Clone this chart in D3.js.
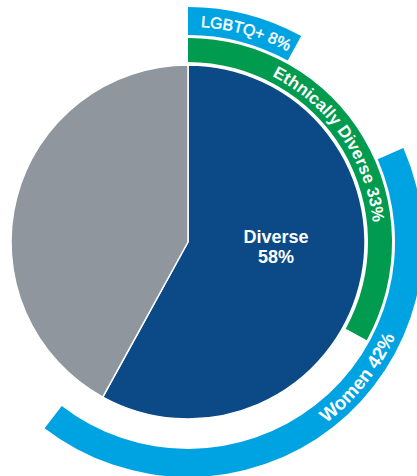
<!DOCTYPE html>
<html>
<head>
<meta charset="utf-8">
<script src="https://cdn.jsdelivr.net/npm/d3@7/dist/d3.min.js"></script>
<style>
  html, body { margin: 0; padding: 0; background: #ffffff; }
  svg { display: block; }
</style>
</head>
<body>
<svg id="chart" width="417" height="476"></svg>
<script>
// Board composition: share that is diverse vs. not
const pieNames = ["Diverse", "Other"];
const pieValues = [58, 42];

// Overlapping diversity categories shown as outer bands (percent of board)
const bandNames = ["Ethnically Diverse", "LGBTQ+", "Women"];
const bandValues = [33, 8, 42];

// ---- layout ----
const cx = 188, cy = 242;
const pieR = 177;
const tau = 2 * Math.PI;
const deg = Math.PI / 180;

// band geometry: which ring, where it starts, where its label sits
const rings = [{ r0: 180, r1: 204 }, { r0: 207, r1: 235 }];
const bandLayout = [
  { ring: 0, start: 0,          labelAt: 55.4 * deg,  size: 17,   weight: "bold",   stroke: 0,    dir: "cw"  },
  { ring: 1, start: 0,          labelAt: 15.5 * deg,  size: 16,   weight: "normal", stroke: 0.45, dir: "cw"  },
  { ring: 1, start: 66.4 * deg, labelAt: 128.6 * deg, size: 19,   weight: "bold",   stroke: 0,    dir: "ccw" }
];
const bandColors = ["#009b4f", "#00a3e2", "#00a3e2"];
const pieColors = ["#0b4a87", "#8f969e"];

const svg = d3.select("#chart");
const g = svg.append("g").attr("transform", `translate(${cx},${cy})`);

// percent -> angle
const angle = d3.scaleLinear().domain([0, 100]).range([0, tau]);

// ---- inner pie ----
const pie = d3.pie().sort(null).value(d => d)(pieValues);
const pieArc = d3.arc().innerRadius(0).outerRadius(pieR);
g.selectAll("path.slice")
  .data(pie)
  .join("path")
  .attr("class", "slice")
  .attr("d", pieArc)
  .attr("fill", (d, i) => pieColors[i])
  .attr("stroke", "#ffffff")
  .attr("stroke-width", 1.5)
  .attr("stroke-linejoin", "round");

// centre label for the diverse slice
const diverseLabel = g.append("text")
  .attr("fill", "#ffffff")
  .attr("font-family", "Liberation Sans, Arial, sans-serif")
  .attr("font-weight", "bold")
  .attr("font-size", 18)
  .attr("text-anchor", "middle");
diverseLabel.append("tspan").attr("x", 88).attr("y", 1).text(pieNames[0]);
diverseLabel.append("tspan").attr("x", 88).attr("y", 21).text(pieValues[0] + "%");

// ---- outer bands ----
const bands = bandValues.map((v, i) => {
  const L = bandLayout[i];
  const ring = rings[L.ring];
  return {
    name: bandNames[i], value: v, color: bandColors[i],
    startAngle: L.start, endAngle: L.start + angle(v),
    innerRadius: ring.r0, outerRadius: ring.r1, layout: L
  };
});

const bandArc = d3.arc();
g.selectAll("path.band")
  .data(bands)
  .join("path")
  .attr("class", "band")
  .attr("d", d => bandArc(d))
  .attr("fill", d => d.color);

// point on a circle, angle measured clockwise from 12 o'clock
const pt = (r, a) => [r * Math.sin(a), -r * Math.cos(a)];

// curved label paths centred on each band's label angle
const defs = svg.append("defs");
bands.forEach((d, i) => {
  const L = d.layout;
  const mid = (d.innerRadius + d.outerRadius) / 2;
  const cap = L.size * 0.716;
  const half = 80 * deg;
  let path;
  if (L.dir === "cw") {
    const r = mid - cap / 2;
    const p0 = pt(r, L.labelAt - half), p1 = pt(r, L.labelAt + half);
    path = `M${p0[0]},${p0[1]} A${r},${r} 0 0 1 ${p1[0]},${p1[1]}`;
  } else {
    const r = mid + cap / 2;
    const p0 = pt(r, L.labelAt + half), p1 = pt(r, L.labelAt - half);
    path = `M${p0[0]},${p0[1]} A${r},${r} 0 0 0 ${p1[0]},${p1[1]}`;
  }
  defs.append("path").attr("id", "labelPath" + i).attr("d", path);

  g.append("text")
    .attr("fill", "#ffffff")
    .attr("stroke", L.stroke ? "#ffffff" : null)
    .attr("stroke-width", L.stroke || null)
    .attr("font-family", "Liberation Sans, Arial, sans-serif")
    .attr("font-weight", L.weight)
    .attr("font-size", L.size)
    .append("textPath")
    .attr("href", "#labelPath" + i)
    .attr("startOffset", "50%")
    .attr("text-anchor", "middle")
    .text(`${d.name} ${d.value}%`);
});
</script>
</body>
</html>
